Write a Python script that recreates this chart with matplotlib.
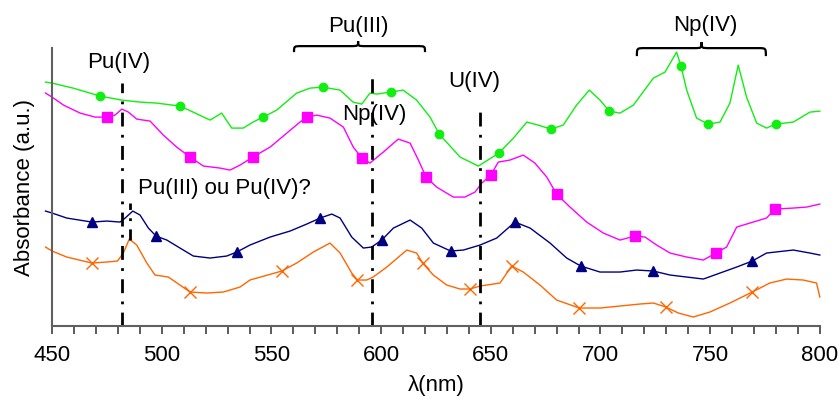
import matplotlib
matplotlib.use("Agg")
import matplotlib.pyplot as plt
from matplotlib.path import Path
from matplotlib.patches import PathPatch

plt.rcParams['font.family'] = ['Liberation Sans', 'DejaVu Sans']

# spectra (wavelength in nm, absorbance in a.u.)
green_x = [447, 450, 459.6, 471.9, 481.8, 490.1, 497.7, 508.3, 514.3, 522.0, 527.3, 531.9,
           537.1, 541.6, 546.2, 552.4, 561.5, 567.6, 573.5, 581.3, 587.2, 591.2, 594.9,
           598.0, 604.4, 610.0, 616.2, 622.3, 626.5, 636.0, 644.3, 653.7, 660.3, 666.4,
           671.6, 677.4, 683.0, 689.1, 694.9, 699.8, 704.0, 708.9, 715.0, 724.1, 729.4,
           734.7, 736.7, 739.3, 743.8, 749.1, 754.5, 759.0, 762.8, 766.6, 771.2, 775.7,
           779.8, 787.9, 795.5, 800]
green_y = [2.44, 2.43, 2.38, 2.30, 2.26, 2.24, 2.23, 2.20, 2.14, 2.06, 2.13, 1.98,
           1.98, 2.04, 2.09, 2.16, 2.33, 2.38, 2.39, 2.36, 2.24, 2.22, 2.33,
           2.32, 2.34, 2.36, 2.26, 2.09, 1.92, 1.69, 1.60, 1.73, 1.88, 2.04,
           2.01, 1.97, 2.01, 2.21, 2.36, 2.26, 2.15, 2.13, 2.21, 2.48, 2.54,
           2.74, 2.60, 2.36, 2.08, 2.02, 2.04, 2.23, 2.61, 2.29, 2.03, 1.98,
           2.02, 2.04, 2.14, 2.15]
green_mx = [471.9, 508.3, 546.2, 573.5, 604.4, 626.5, 653.7, 677.4, 704.0, 736.7, 749.1, 779.8]
green_my = [2.30, 2.20, 2.09, 2.39, 2.34, 1.92, 1.73, 1.97, 2.15, 2.60, 2.02, 2.02]

pink_x = [447, 450, 455.2, 462.8, 469.6, 474.9, 478.7, 481.8, 484.8, 488.6, 494.7, 500.7,
          506.8, 512.9, 519.0, 526.6, 531.1, 535.7, 541.5, 549.4, 557.0, 563.0, 566.4,
          570.6, 576.7, 582.8, 587.3, 591.2, 594.9, 601.0, 607.8, 613.2, 617.0, 620.5,
          625.3, 632.9, 638.2, 642.8, 645.9, 650.0, 653.4, 658.7, 664.8, 670.1, 675.5,
          680.0, 686.1, 693.7, 701.3, 708.9, 715.7, 720.3, 725.6, 731.7, 739.3, 746.9,
          752.6, 757.5, 762.1, 769.6, 775.7, 779.5, 787.9, 794.0, 800]
pink_y = [2.33, 2.29, 2.21, 2.13, 2.09, 2.09, 2.11, 2.17, 2.14, 2.07, 2.05, 1.91,
          1.79, 1.69, 1.60, 1.58, 1.56, 1.61, 1.69, 1.79, 1.93, 2.04, 2.09,
          2.11, 2.08, 1.99, 1.79, 1.68, 1.63, 1.74, 1.87, 1.83, 1.66, 1.49,
          1.39, 1.29, 1.29, 1.34, 1.43, 1.51, 1.64, 1.66, 1.71, 1.63, 1.49,
          1.32, 1.19, 1.04, 0.93, 0.86, 0.90, 0.89, 0.81, 0.73, 0.69, 0.66,
          0.73, 0.79, 0.99, 1.04, 1.08, 1.17, 1.18, 1.19, 1.22]
pink_mx = [474.9, 512.9, 541.5, 566.4, 591.2, 620.5, 650.0, 680.0, 715.7, 752.6, 779.5]
pink_my = [2.09, 1.69, 1.69, 2.09, 1.68, 1.49, 1.51, 1.32, 0.90, 0.73, 1.17]

navy_x = [447, 450, 456.7, 468.1, 474.9, 481.0, 483.3, 486.8, 490.1, 493.9, 497.4, 502.3,
          508.3, 514.4, 522.0, 529.6, 534.2, 540.2, 549.4, 558.5, 566.1, 572.2, 577.5,
          581.3, 586.6, 591.9, 595.7, 600.3, 605.6, 613.2, 618.5, 623.8, 631.7, 637.5,
          645.1, 652.7, 661.0, 667.9, 677.0, 684.6, 691.0, 699.8, 708.9, 716.5, 724.1,
          731.7, 739.3, 746.9, 754.5, 762.1, 769.2, 775.7, 787.9, 795.5, 800]
navy_y = [1.15, 1.13, 1.08, 1.04, 1.05, 1.04, 1.08, 1.15, 1.11, 0.98, 0.90, 0.86,
          0.78, 0.70, 0.68, 0.70, 0.74, 0.81, 0.89, 0.95, 1.02, 1.08, 1.12,
          1.08, 0.89, 0.78, 0.79, 0.86, 0.98, 1.06, 0.98, 0.83, 0.75, 0.76,
          0.81, 0.88, 1.04, 0.98, 0.83, 0.68, 0.60, 0.54, 0.54, 0.56, 0.55,
          0.51, 0.49, 0.47, 0.53, 0.59, 0.65, 0.73, 0.76, 0.73, 0.71]
navy_mx = [468.1, 497.4, 534.2, 572.2, 600.3, 631.7, 661.0, 691.0, 724.1, 769.2]
navy_my = [1.04, 0.90, 0.74, 1.08, 0.86, 0.75, 1.04, 0.60, 0.55, 0.65]

orange_x = [447, 450, 456.7, 468.1, 474.9, 479.8, 482.5, 485.2, 488.6, 493.2, 496.9, 503.0,
            508.3, 512.9, 520.5, 528.1, 535.7, 540.2, 554.7, 561.5, 569.1, 576.7, 581.3,
            586.6, 589.2, 593.4, 596.4, 602.6, 611.7, 616.2, 618.9, 623.8, 629.9, 636.0,
            640.5, 645.1, 654.2, 659.5, 664.8, 672.4, 680.0, 690.3, 699.8, 708.9, 718.0,
            724.1, 729.8, 735.5, 742.3, 749.9, 759.0, 769.2, 777.2, 784.9, 792.4, 798.5, 800]
orange_y = [0.79, 0.75, 0.69, 0.63, 0.64, 0.65, 0.73, 0.87, 0.81, 0.63, 0.51, 0.49,
            0.41, 0.34, 0.33, 0.34, 0.39, 0.46, 0.55, 0.63, 0.74, 0.83, 0.73,
            0.53, 0.46, 0.46, 0.49, 0.59, 0.76, 0.73, 0.63, 0.51, 0.41, 0.37,
            0.37, 0.40, 0.43, 0.60, 0.54, 0.41, 0.26, 0.18, 0.18, 0.20, 0.22,
            0.23, 0.19, 0.13, 0.09, 0.14, 0.23, 0.34, 0.43, 0.47, 0.46, 0.43, 0.29]
orange_mx = [468.1, 512.9, 554.7, 589.2, 618.9, 640.5, 659.5, 690.3, 729.8, 769.2]
orange_my = [0.63, 0.34, 0.55, 0.46, 0.63, 0.37, 0.60, 0.18, 0.19, 0.34]

# reference lines: (wavelength, top, bottom)
ref_lines = [(482, 2.43, 0.0), (596, 2.50, 0.0), (645, 2.21, 0.0)]
pu_question_line = (485.5, 1.23, 0.86)

fig, ax = plt.subplots(figsize=(8.4, 4.01), dpi=100)
fig.subplots_adjust(left=0.062, right=0.976, bottom=0.187, top=0.880)

ax.plot(green_x, green_y, color='#11ee11', lw=1.0, clip_on=False)
ax.plot(green_mx, green_my, ls='none', marker='o', ms=6, color='#11ee11')
ax.plot(pink_x, pink_y, color='#ff00ff', lw=1.0, clip_on=False)
ax.plot(pink_mx, pink_my, ls='none', marker='s', ms=6.5, color='#ff00ff')
ax.plot(navy_x, navy_y, color='#000080', lw=1.0, clip_on=False)
ax.plot(navy_mx, navy_my, ls='none', marker='^', ms=7, color='#000080')
ax.plot(orange_x, orange_y, color='#ff6600', lw=1.0, clip_on=False)
ax.plot(orange_mx, orange_my, ls='none', marker='x', ms=9, mew=1.0, color='#ff6600')

for x, top, bot in ref_lines:
    ax.plot([x, x], [bot, top], color='black', lw=2, ls=(0, (5, 3, 1, 3)))
x, top, bot = pu_question_line
ax.plot([x, x], [bot, top], color='black', lw=2, ls=(0, (4, 3, 1, 3)))


def brace(x1, x2, xc, yb, ym, yt, w):
    verts = [(x1, yb), (x1, ym), (x1, ym), (x1 + w, ym),
             (xc - w, ym),
             (xc, ym), (xc, ym), (xc, yt),
             (xc, ym), (xc, ym), (xc + w, ym),
             (x2 - w, ym),
             (x2, ym), (x2, ym), (x2, yb)]
    codes = [Path.MOVETO, Path.CURVE4, Path.CURVE4, Path.CURVE4,
             Path.LINETO,
             Path.CURVE4, Path.CURVE4, Path.CURVE4,
             Path.CURVE4, Path.CURVE4, Path.CURVE4,
             Path.LINETO,
             Path.CURVE4, Path.CURVE4, Path.CURVE4]
    ax.add_patch(PathPatch(Path(verts, codes), fill=False, lw=1.6,
                           edgecolor='black', clip_on=False))


brace(560.3, 620.0, 589.5, 2.74, 2.80, 2.85, 3.6)
brace(716.6, 775.4, 746.1, 2.70, 2.78, 2.84, 3.6)

fs = 16
ax.text(480.2, 2.64, 'Pu(IV)', fontsize=fs, ha='center', va='center')
ax.text(589.5, 3.00, 'Pu(III)', fontsize=fs, ha='center', va='center')
ax.text(596.8, 2.12, 'Np(IV)', fontsize=fs, ha='center', va='center')
ax.text(642.3, 2.45, 'U(IV)', fontsize=fs, ha='center', va='center')
ax.text(747.9, 3.01, 'Np(IV)', fontsize=fs, ha='center', va='center')
ax.text(528.4, 1.38, 'Pu(III) ou Pu(IV)?', fontsize=fs, ha='center', va='center')

ax.set_xlim(450, 800)
ax.set_ylim(0, 2.78)
ax.set_xticks(range(450, 801, 50))
ax.set_xticks(range(450, 801, 10), minor=True)
ax.set_yticks([])
ax.tick_params(axis='x', which='both', direction='out', length=6, width=1.2,
               color='#404040', labelsize=fs, pad=8)
ax.spines['top'].set_visible(False)
ax.spines['right'].set_visible(False)
ax.spines['left'].set_color('#606060')
ax.spines['bottom'].set_color('#606060')
ax.spines['left'].set_linewidth(1.5)
ax.spines['bottom'].set_linewidth(1.5)
ax.set_xlabel('λ(nm)', fontsize=fs, labelpad=6)
ax.set_ylabel('Absorbance (a.u.)', fontsize=fs, labelpad=12)

fig.savefig('out.png', dpi=100)
